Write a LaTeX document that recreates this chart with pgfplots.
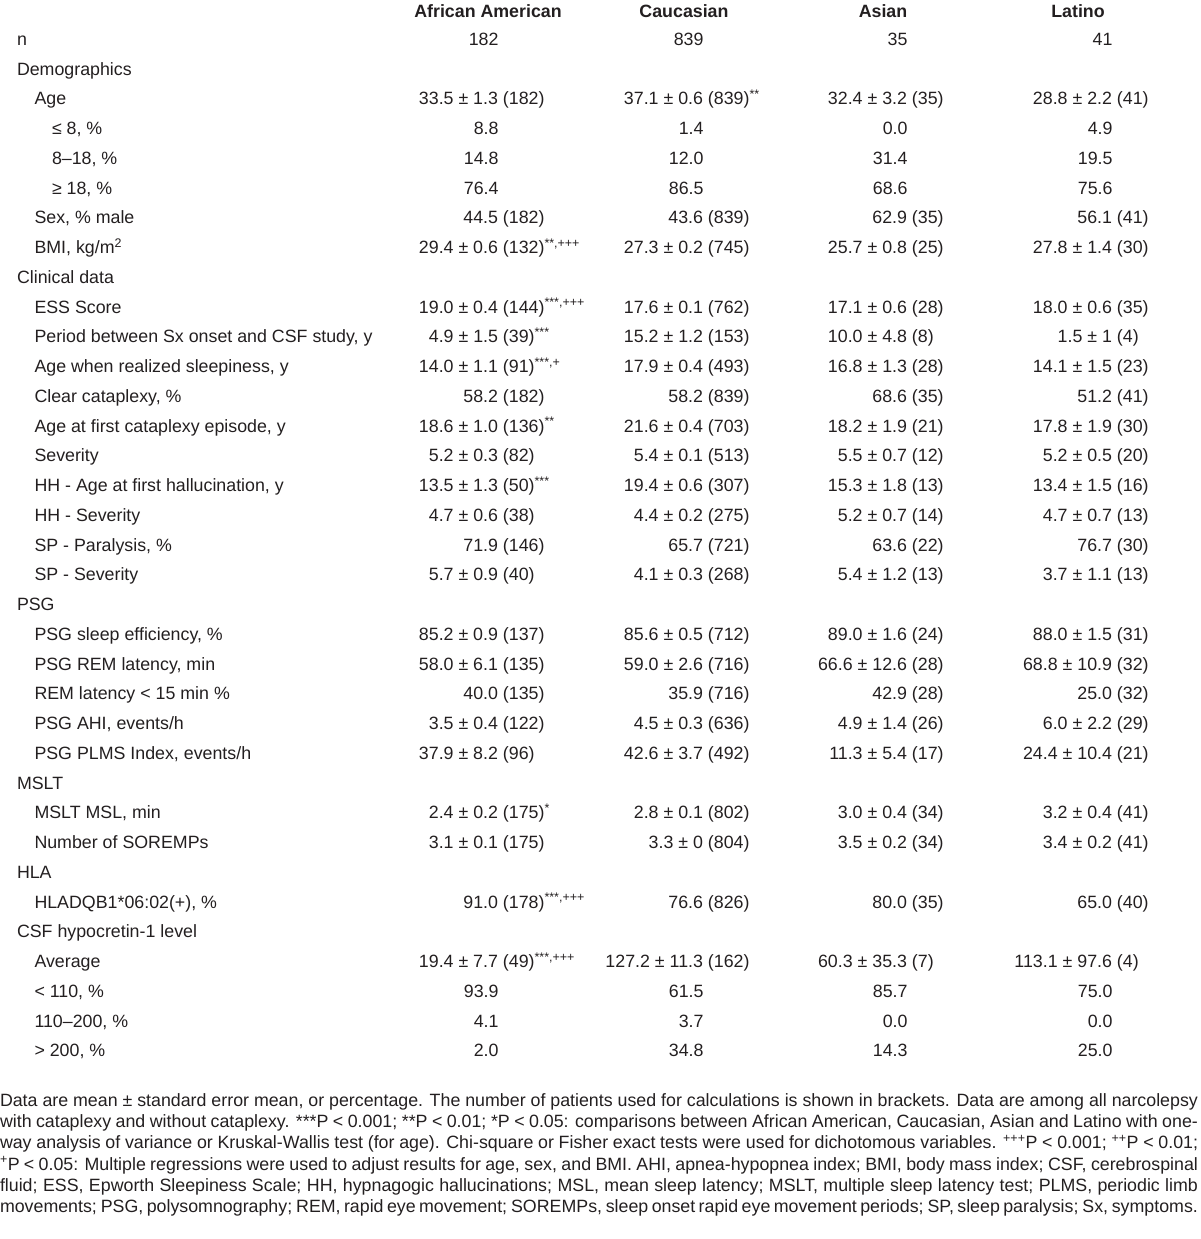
\documentclass[border=0pt]{standalone}
\usepackage{pgfplots}
\pgfplotsset{compat=1.18}
\usepackage{fontspec}
\setmainfont{Liberation Sans}
\definecolor{ink}{RGB}{35,31,32}
\tikzset{tx/.style={inner sep=0pt, outer sep=0pt, text=ink, font=\fontsize{17.8}{21}\selectfont}}
\newcommand\ca{498}
\newcommand\cb{703}
\newcommand\cc{907}
\newcommand\cd{1112}
% label: level-x, row index, text
\newcommand\lab[3]{\node[tx, anchor=base west] at (axis cs:#1,{45.3+29.75*#2}) {#3};}
% value only, right-aligned at x
\newcommand\val[3]{\node[tx, anchor=base west] at (axis cs:#1,{45.3+29.75*#2}) {\makebox[0pt][r]{#3}};}
% value with (n) part
\newcommand\cel[4]{\node[tx, anchor=base west] at (axis cs:#1,{45.3+29.75*#2}) {\makebox[0pt][r]{#3}\ #4};}
\newcommand\sps[1]{\textsuperscript{#1}}
\newcommand\fn[2]{\node[tx, anchor=base west] at (axis cs:0,{1106.4+21.2*#1}) {\makebox[1198pt][s]{#2}};}
\begin{document}
\begin{tikzpicture}
\begin{axis}[scale only axis, width=1200pt, height=1239pt,
  xmin=0, xmax=1200, ymin=0, ymax=1239, y dir=reverse,
  axis lines=none, ticks=none, clip=false]
\addplot[draw=none] coordinates {(0,0) (1200,1239)};
% header
\node[tx, anchor=base, font=\fontsize{17.8}{21}\selectfont\bfseries] at (axis cs:488,17.2) {African American};
\node[tx, anchor=base, font=\fontsize{17.8}{21}\selectfont\bfseries] at (axis cs:684,17.2) {Caucasian};
\node[tx, anchor=base, font=\fontsize{17.8}{21}\selectfont\bfseries] at (axis cs:883,17.2) {Asian};
\node[tx, anchor=base, font=\fontsize{17.8}{21}\selectfont\bfseries] at (axis cs:1078,17.2) {Latino};
% row 0
\lab{17}{0}{n}
\val{\ca}{0}{182}\val{\cb}{0}{839}\val{\cc}{0}{35}\val{\cd}{0}{41}
\lab{17}{1}{Demographics}
\lab{34.5}{2}{Age}
\cel{\ca}{2}{33.5 ± 1.3}{(182)}\cel{\cb}{2}{37.1 ± 0.6}{(839)\sps{**}}\cel{\cc}{2}{32.4 ± 3.2}{(35)}\cel{\cd}{2}{28.8 ± 2.2}{(41)}
\lab{52}{3}{≤ 8, \%}
\val{\ca}{3}{8.8}\val{\cb}{3}{1.4}\val{\cc}{3}{0.0}\val{\cd}{3}{4.9}
\lab{52}{4}{8–18, \%}
\val{\ca}{4}{14.8}\val{\cb}{4}{12.0}\val{\cc}{4}{31.4}\val{\cd}{4}{19.5}
\lab{52}{5}{≥ 18, \%}
\val{\ca}{5}{76.4}\val{\cb}{5}{86.5}\val{\cc}{5}{68.6}\val{\cd}{5}{75.6}
\lab{34.5}{6}{Sex, \% male}
\cel{\ca}{6}{44.5}{(182)}\cel{\cb}{6}{43.6}{(839)}\cel{\cc}{6}{62.9}{(35)}\cel{\cd}{6}{56.1}{(41)}
\lab{34.5}{7}{BMI, kg/m\sps{2}}
\cel{\ca}{7}{29.4 ± 0.6}{(132)\sps{**,+++}}\cel{\cb}{7}{27.3 ± 0.2}{(745)}\cel{\cc}{7}{25.7 ± 0.8}{(25)}\cel{\cd}{7}{27.8 ± 1.4}{(30)}
\lab{17}{8}{Clinical data}
\lab{34.5}{9}{ESS Score}
\cel{\ca}{9}{19.0 ± 0.4}{(144)\sps{***,+++}}\cel{\cb}{9}{17.6 ± 0.1}{(762)}\cel{\cc}{9}{17.1 ± 0.6}{(28)}\cel{\cd}{9}{18.0 ± 0.6}{(35)}
\lab{34.5}{10}{Period between Sx onset and CSF study, y}
\cel{\ca}{10}{4.9 ± 1.5}{(39)\sps{***}}\cel{\cb}{10}{15.2 ± 1.2}{(153)}\cel{\cc}{10}{10.0 ± 4.8}{(8)}\cel{\cd}{10}{1.5 ± 1}{(4)}
\lab{34.5}{11}{Age when realized sleepiness, y}
\cel{\ca}{11}{14.0 ± 1.1}{(91)\sps{***,+}}\cel{\cb}{11}{17.9 ± 0.4}{(493)}\cel{\cc}{11}{16.8 ± 1.3}{(28)}\cel{\cd}{11}{14.1 ± 1.5}{(23)}
\lab{34.5}{12}{Clear cataplexy, \%}
\cel{\ca}{12}{58.2}{(182)}\cel{\cb}{12}{58.2}{(839)}\cel{\cc}{12}{68.6}{(35)}\cel{\cd}{12}{51.2}{(41)}
\lab{34.5}{13}{Age at first cataplexy episode, y}
\cel{\ca}{13}{18.6 ± 1.0}{(136)\sps{**}}\cel{\cb}{13}{21.6 ± 0.4}{(703)}\cel{\cc}{13}{18.2 ± 1.9}{(21)}\cel{\cd}{13}{17.8 ± 1.9}{(30)}
\lab{34.5}{14}{Severity}
\cel{\ca}{14}{5.2 ± 0.3}{(82)}\cel{\cb}{14}{5.4 ± 0.1}{(513)}\cel{\cc}{14}{5.5 ± 0.7}{(12)}\cel{\cd}{14}{5.2 ± 0.5}{(20)}
\lab{34.5}{15}{HH - Age at first hallucination, y}
\cel{\ca}{15}{13.5 ± 1.3}{(50)\sps{***}}\cel{\cb}{15}{19.4 ± 0.6}{(307)}\cel{\cc}{15}{15.3 ± 1.8}{(13)}\cel{\cd}{15}{13.4 ± 1.5}{(16)}
\lab{34.5}{16}{HH - Severity}
\cel{\ca}{16}{4.7 ± 0.6}{(38)}\cel{\cb}{16}{4.4 ± 0.2}{(275)}\cel{\cc}{16}{5.2 ± 0.7}{(14)}\cel{\cd}{16}{4.7 ± 0.7}{(13)}
\lab{34.5}{17}{SP - Paralysis, \%}
\cel{\ca}{17}{71.9}{(146)}\cel{\cb}{17}{65.7}{(721)}\cel{\cc}{17}{63.6}{(22)}\cel{\cd}{17}{76.7}{(30)}
\lab{34.5}{18}{SP - Severity}
\cel{\ca}{18}{5.7 ± 0.9}{(40)}\cel{\cb}{18}{4.1 ± 0.3}{(268)}\cel{\cc}{18}{5.4 ± 1.2}{(13)}\cel{\cd}{18}{3.7 ± 1.1}{(13)}
\lab{17}{19}{PSG}
\lab{34.5}{20}{PSG sleep efficiency, \%}
\cel{\ca}{20}{85.2 ± 0.9}{(137)}\cel{\cb}{20}{85.6 ± 0.5}{(712)}\cel{\cc}{20}{89.0 ± 1.6}{(24)}\cel{\cd}{20}{88.0 ± 1.5}{(31)}
\lab{34.5}{21}{PSG REM latency, min}
\cel{\ca}{21}{58.0 ± 6.1}{(135)}\cel{\cb}{21}{59.0 ± 2.6}{(716)}\cel{\cc}{21}{66.6 ± 12.6}{(28)}\cel{\cd}{21}{68.8 ± 10.9}{(32)}
\lab{34.5}{22}{REM latency < 15 min \%}
\cel{\ca}{22}{40.0}{(135)}\cel{\cb}{22}{35.9}{(716)}\cel{\cc}{22}{42.9}{(28)}\cel{\cd}{22}{25.0}{(32)}
\lab{34.5}{23}{PSG AHI, events/h}
\cel{\ca}{23}{3.5 ± 0.4}{(122)}\cel{\cb}{23}{4.5 ± 0.3}{(636)}\cel{\cc}{23}{4.9 ± 1.4}{(26)}\cel{\cd}{23}{6.0 ± 2.2}{(29)}
\lab{34.5}{24}{PSG PLMS Index, events/h}
\cel{\ca}{24}{37.9 ± 8.2}{(96)}\cel{\cb}{24}{42.6 ± 3.7}{(492)}\cel{\cc}{24}{11.3 ± 5.4}{(17)}\cel{\cd}{24}{24.4 ± 10.4}{(21)}
\lab{17}{25}{MSLT}
\lab{34.5}{26}{MSLT MSL, min}
\cel{\ca}{26}{2.4 ± 0.2}{(175)\sps{*}}\cel{\cb}{26}{2.8 ± 0.1}{(802)}\cel{\cc}{26}{3.0 ± 0.4}{(34)}\cel{\cd}{26}{3.2 ± 0.4}{(41)}
\lab{34.5}{27}{Number of SOREMPs}
\cel{\ca}{27}{3.1 ± 0.1}{(175)}\cel{\cb}{27}{3.3 ± 0}{(804)}\cel{\cc}{27}{3.5 ± 0.2}{(34)}\cel{\cd}{27}{3.4 ± 0.2}{(41)}
\lab{17}{28}{HLA}
\lab{34.5}{29}{HLADQB1*06:02(+), \%}
\cel{\ca}{29}{91.0}{(178)\sps{***,+++}}\cel{\cb}{29}{76.6}{(826)}\cel{\cc}{29}{80.0}{(35)}\cel{\cd}{29}{65.0}{(40)}
\lab{17}{30}{CSF hypocretin-1 level}
\lab{34.5}{31}{Average}
\cel{\ca}{31}{19.4 ± 7.7}{(49)\sps{***,+++}}\cel{\cb}{31}{127.2 ± 11.3}{(162)}\cel{\cc}{31}{60.3 ± 35.3}{(7)}\cel{\cd}{31}{113.1 ± 97.6}{(4)}
\lab{34.5}{32}{< 110, \%}
\val{\ca}{32}{93.9}\val{\cb}{32}{61.5}\val{\cc}{32}{85.7}\val{\cd}{32}{75.0}
\lab{34.5}{33}{110–200, \%}
\val{\ca}{33}{4.1}\val{\cb}{33}{3.7}\val{\cc}{33}{0.0}\val{\cd}{33}{0.0}
\lab{34.5}{34}{> 200, \%}
\val{\ca}{34}{2.0}\val{\cb}{34}{34.8}\val{\cc}{34}{14.3}\val{\cd}{34}{25.0}
% footnote
\fn{0}{Data are mean ± standard error mean, or percentage. The number of patients used for calculations is shown in brackets. Data are among all narcolepsy}
\fn{1}{with cataplexy and without cataplexy. ***P < 0.001; **P < 0.01; *P < 0.05: comparisons between African American, Caucasian, Asian and Latino with one-}
\fn{2}{way analysis of variance or Kruskal-Wallis test (for age). Chi-square or Fisher exact tests were used for dichotomous variables. \sps{+++}P < 0.001; \sps{++}P < 0.01;}
\fn{3}{\sps{+}P < 0.05: Multiple regressions were used to adjust results for age, sex, and BMI. AHI, apnea-hypopnea index; BMI, body mass index; CSF, cerebrospinal}
\fn{4}{fluid; ESS, Epworth Sleepiness Scale; HH, hypnagogic hallucinations; MSL, mean sleep latency; MSLT, multiple sleep latency test; PLMS, periodic limb}
\fn{5}{movements; PSG, polysomnography; REM, rapid eye movement; SOREMPs, sleep onset rapid eye movement periods; SP, sleep paralysis; Sx, symptoms.}
\end{axis}
\pgfresetboundingbox
\path (current axis.south west) rectangle (current axis.north east);
\end{tikzpicture}
\end{document}
